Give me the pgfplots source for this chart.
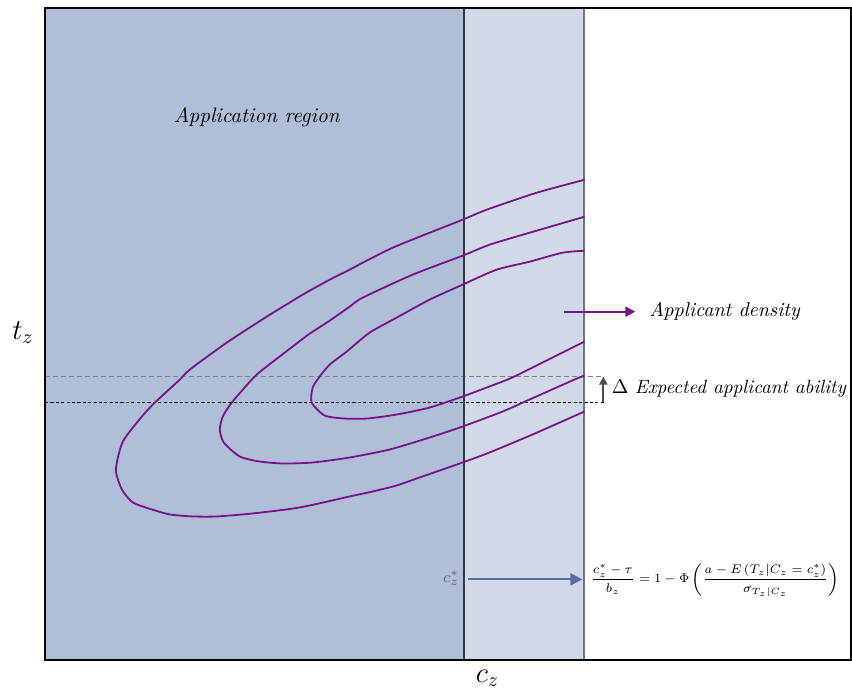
\documentclass[border=0pt]{standalone}
\usepackage{graphicx}
\usepackage{pgfplots}
\pgfplotsset{compat=1.18}
\usetikzlibrary{arrows.meta}
\definecolor{regdark}{RGB}{176,191,216}
\definecolor{reglight}{RGB}{209,217,232}
\definecolor{contour}{RGB}{120,20,135}
\definecolor{cutline}{RGB}{52,56,70}
\definecolor{boundline}{RGB}{110,115,125}
\definecolor{steel}{RGB}{88,108,158}
\begin{document}
\begin{tikzpicture}
\begin{axis}[scale only axis, width=403.5pt, height=326.5pt,
  xmin=45, xmax=852, ymin=8, ymax=661, y dir=reverse,
  xtick=\empty, ytick=\empty, axis line style={line width=0.9pt},
  clip=false, axis on top]
% regions
\addplot[draw=none, fill=regdark] coordinates {(45,8)(464,8)(464,661)(45,661)} -- cycle;
\addplot[draw=none, fill=reglight] coordinates {(464,8)(585,8)(585,661)(464,661)} -- cycle;
% dashed reference lines
\addplot[color=gray, line width=0.6pt, dash pattern=on 2.5pt off 1.5pt] coordinates {(45,377)(605,377)};
\addplot[color=black, line width=0.9pt, dash pattern=on 1.6pt off 1.1pt] coordinates {(45,403)(605,403)};
% vertical lines
\addplot[color=cutline, line width=1pt] coordinates {(464,8)(464,661)};
\addplot[color=boundline, line width=1pt] coordinates {(585,8)(585,661)};
% contours
\addplot[color=contour, line width=0.9pt, smooth, tension=0.4] coordinates {
(585,180) (537,193) (487,210) (463,220) (430,233) (393,248) (363,263) (350,270) (330,280) (303,295) (267,317) (227,343) (190,370) (180,380) (155,403) (142,417) (123,442) (116,470) (122,490) (133,503) (152,510) (170,515) (193,517) (217,517) (253,514) (300,508) (350,497) (373,492) (397,486) (420,478) (463,463) (490,453) (533,435) (585,412)};
\addplot[color=contour, line width=0.9pt, smooth, tension=0.4] coordinates {
(585,217) (530,233) (490,245) (463,256) (413,275) (363,298) (350,307) (330,321) (310,334) (302,340) (263,370) (252,380) (232,403) (223,417) (220,430) (224,443) (240,457) (260,462) (283,464) (313,463) (350,458) (390,450) (430,438) (463,427) (503,412) (530,400) (575,380) (585,376)};
\addplot[color=contour, line width=0.9pt, smooth, tension=0.4] coordinates {
(585,251) (563,253) (530,262) (497,270) (463,285) (430,300) (397,318) (370,333) (347,352) (330,365) (320,377) (313,388) (312,403) (325,416) (345,419) (367,419) (397,415) (430,408) (463,397) (487,388) (508,380) (523,373) (585,342)};
% arrows
\addplot[color=contour, line width=0.9pt, -{Triangle[length=5pt,width=5pt]}] coordinates {(565,312)(636,312)};
\addplot[color=steel, line width=1pt, -{Triangle[length=6pt,width=6pt]}] coordinates {(468,580)(583,580)};
\addplot[color=black!70, line width=1pt, -{Triangle[length=4pt,width=4pt]}] coordinates {(604,402)(604,377)};
% text
\node at (axis cs:257,117) {\fontsize{10.5}{12}\selectfont\itshape Application region};
\node[anchor=west] at (axis cs:643,312) {\itshape Applicant density};
\node[anchor=west, inner sep=0pt] at (axis cs:612,389) {\fontsize{9.6}{11}\selectfont $\Delta$ \textit{Expected applicant ability}};
\node[anchor=east, text=black!60, inner sep=1pt] at (axis cs:462,579) {\footnotesize $c_z^*$};
\node[anchor=west, inner sep=1pt] at (axis cs:589,581) {\scalebox{0.9}{\scriptsize $\displaystyle \frac{c_z^*-\tau}{b_z}=1-\Phi\left(\frac{a-E\left(T_z|C_z=c_z^*\right)}{\sigma_{T_z|C_z}}\right)$}};
\node at (axis cs:23,333) {\Large $t_z$};
\node at (axis cs:488,679) {\Large $c_z$};
\path (axis cs:0,0) rectangle (axis cs:852,695);
\end{axis}
\end{tikzpicture}
\end{document}
